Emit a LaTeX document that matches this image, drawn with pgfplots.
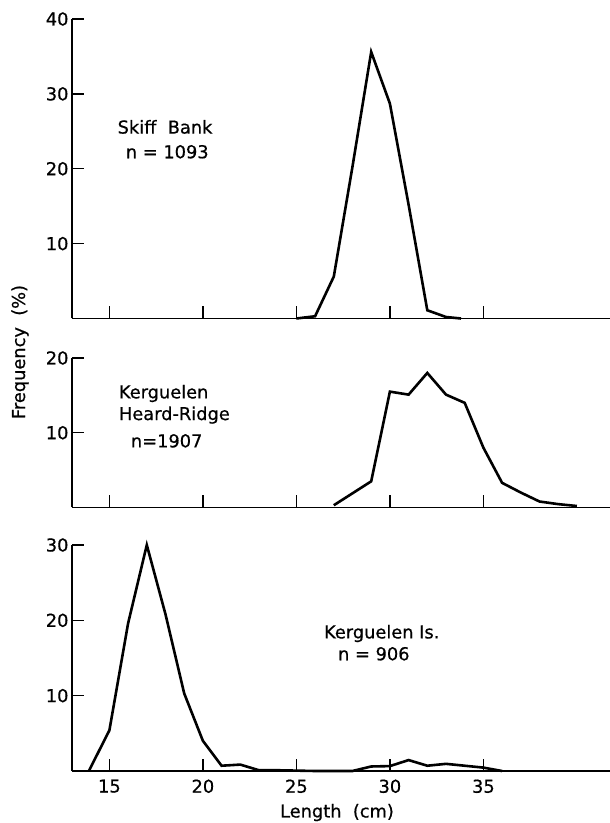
\documentclass[border=0pt]{standalone}
\usepackage{fontspec}
\setmainfont{DejaVu Sans}[FakeBold=0.6]
\usepackage{pgfplots}
\pgfplotsset{compat=1.18}

\newcommand{\lab}{\fontsize{17.8}{21}\selectfont}

\pgfplotsset{panel/.style={
    scale only axis, width=538pt,
    xmin=13, xmax=41.77, ymin=0,
    axis lines*=left,
    axis line style={-, line width=1.8pt},
    tick align=inside, major tick length=12pt,
    tick style={line width=1.3pt, black},
    xtick={15,20,25,30,35},
    /pgf/number format/assume math mode=true,
    tick label style={font=\lab},
    xticklabel style={yshift=-5pt},
    clip=false, anchor=south west,
}}
\tikzset{curve/.style={black, line width=2.6pt, mark=none},
  txt/.style={anchor=base west, inner sep=0pt, font=\lab}}

\begin{document}
\begin{tikzpicture}
\path[use as bounding box] (0,0) rectangle (610pt,823pt);

% Skiff Bank
\begin{axis}[panel, at={(72pt,504.5pt)}, height=299.5pt,
    ymax=40, ytick={10,20,30,40}, xticklabels={}]
  \addplot[curve] coordinates {(25,0)(26,0.3)(27,5.6)(28,20.3)(29,35.6)(30,28.7)
    (31,15.2)(32,1.1)(33,0.2)(33.8,0)};
  \node[txt] at (axis cs:15.43,24.7) {Skiff\ \ Bank};
  \node[txt] at (axis cs:15.87,21.4) {n = 1093};
\end{axis}

% Kerguelen Heard-Ridge
\begin{axis}[panel, at={(72pt,315.5pt)}, height=149.5pt,
    ymax=20, ytick={10,20}, xticklabels={}]
  \addplot[curve] coordinates {(27,0.3)(28,1.9)(29,3.5)(30,15.5)(31,15.1)(32,18.0)
    (33,15.1)(34,14.0)(35,8.0)(36,3.3)(37,2.0)(38,0.8)(39,0.45)(40,0.2)};
  \node[txt] at (axis cs:15.5,14.6) {Kerguelen};
  \node[txt] at (axis cs:15.5,11.7) {Heard-Ridge};
  \node[txt] at (axis cs:16.14,8.05) {n=1907};
\end{axis}

% Kerguelen Is.
\begin{axis}[panel, at={(72pt,52pt)}, height=226pt,
    ymax=30, ytick={10,20,30}]
  \addplot[curve] coordinates {(13.9,0)(15,5.4)(16,19.6)(17,30)(18,20.8)(19,10.3)
    (20,4.0)(21,0.7)(22,0.85)(23,0.1)(24,0.1)(25,0.05)(26,0)(27,0)(28,0)(29,0.6)
    (30,0.65)(31,1.45)(32,0.7)(33,0.95)(34,0.7)(35,0.45)(36,0)};
  \node[txt] at (axis cs:26.47,17.6) {Kerguelen Is.};
  \node[txt] at (axis cs:27.22,14.7) {n = 906};
\end{axis}

\node[rotate=90, anchor=base, font=\lab] at (25pt,471pt) {Frequency\ \ (\%)};
\node[anchor=base, font=\lab] at (337pt,5.5pt) {Length\ \ (cm)};
\end{tikzpicture}
\end{document}
